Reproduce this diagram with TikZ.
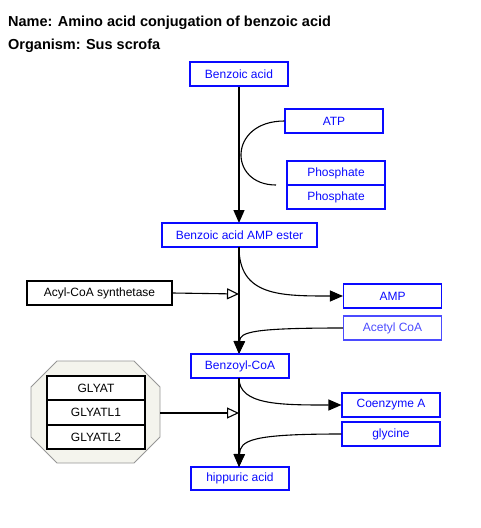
\documentclass[tikz,border=0pt]{standalone}
\usepackage{fontspec}
\setmainfont{Liberation Sans}
\usetikzlibrary{arrows.meta}

\definecolor{pwblue}{RGB}{10,10,255}
\definecolor{pwlight}{RGB}{75,75,255}
\definecolor{grpfill}{RGB}{244,244,237}
\definecolor{grpline}{RGB}{150,150,150}

\tikzset{
    metab/.style={draw=pwblue, text=pwblue, line width=1.1pt, minimum width=98pt, minimum height=24pt, inner sep=0pt, font=\fontsize{12}{14}\selectfont},
    gene/.style={metab, draw=black, text=black},
    conv/.style={line width=1.3pt, -{Triangle[length=13pt,width=11pt]}},
    side/.style={line width=1.1pt},
    catal/.style={line width=1.1pt, -{Triangle[open,length=12pt,width=11pt]}},
    title/.style={anchor=base west, inner sep=0pt, font=\fontsize{14.5}{17}\selectfont\bfseries}
}

\begin{document}
\begin{tikzpicture}[x=1pt,y=-1pt]
    \useasboundingbox (0,0) rectangle (480,528);

    \node[title] (name) at (8,26) {Name: Amino acid conjugation of benzoic acid};
    \node[title] (org) at (8,49) {Organism: Sus scrofa};

    \node[metab] (ba) at (239,74) {Benzoic acid};
    \node[metab] (atp) at (334,121) {ATP};
    \node[metab] (ph1) at (336,173) {Phosphate};
    \node[metab] (ph2) at (336,197) {Phosphate};
    \coordinate (phin) at (276,185);

    \draw[conv] (ba.south) -- (239,223);
    \draw[side] (atp.west) .. controls (228,121) and (228,185) .. (phin);

    \node[metab, minimum width=155pt] (ester) at (239.5,235) {Benzoic acid AMP ester};
    \node[gene, minimum width=145pt] (acyl) at (99.5,293) {Acyl-CoA synthetase};
    \node[metab] (amp) at (392.5,296) {AMP};
    \node[metab, draw=pwlight, text=pwlight] (acoa) at (392.5,328) {Acetyl CoA};
    \coordinate (r1) at (239,294);

    \draw[conv] (239,247) -- (239,354);
    \draw[side, -{Triangle[length=13pt,width=11pt]}] (239,247) .. controls (239,296) and (280,296) .. (amp.west);
    \draw[conv, line width=1.1pt] (acoa.west) .. controls (252,328) and (240,332) .. (239,354);
    \draw[catal] (acyl.east) -- (r1);

    \node[metab] (bcoa) at (240,366) {Benzoyl-CoA};

    \draw[fill=grpfill, draw=grpline, line width=0.8pt] (31,387) -- (57,361) -- (134,361) -- (160,387) -- (160,437) -- (134,463) -- (57,463) -- (31,437) -- cycle;
    \coordinate (grp) at (160,413);
    \node[gene, fill=white] (g1) at (96,388) {GLYAT};
    \node[gene, fill=white] (g2) at (96,412.5) {GLYATL1};
    \node[gene, fill=white] (g3) at (96,437) {GLYATL2};

    \node[metab] (coa) at (391,405) {Coenzyme A};
    \node[metab] (gly) at (391,434) {glycine};
    \coordinate (r2) at (239,413);

    \node[metab, minimum height=23pt] (hip) at (240,478.5) {hippuric acid};

    \draw[conv] (239,378) -- (239,467);
    \draw[side, -{Triangle[length=13pt,width=11pt]}] (239,378) .. controls (239,405) and (280,405) .. (coa.west);
    \draw[conv, line width=1.1pt] (gly.west) .. controls (252,434) and (240,440) .. (239,467);
    \draw[catal] (grp) -- (r2);
\end{tikzpicture}
\end{document}
